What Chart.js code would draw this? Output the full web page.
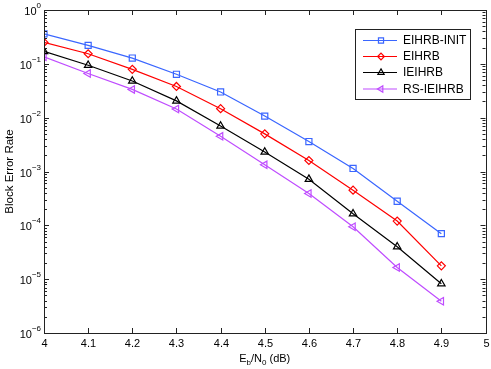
<!DOCTYPE html>
<html>
<head>
<meta charset="utf-8">
<script src="https://cdn.jsdelivr.net/npm/chart.js@4.4.1/dist/chart.umd.min.js"></script>
<style>
  html, body { margin: 0; padding: 0; background: #fff; }
  #wrap { width: 491px; height: 369px; position: relative; }
</style>
</head>
<body>
<div id="wrap"><canvas id="berChart"></canvas></div>
<script>
const snr = [4.0, 4.1, 4.2, 4.3, 4.4, 4.5, 4.6, 4.7, 4.8, 4.9];
const eihrbInit = [0.36, 0.22, 0.128, 0.064, 0.030, 0.0107, 0.0036, 0.00114, 2.8e-4, 7.0e-5];
const eihrb = [0.25, 0.154, 0.079, 0.038, 0.0147, 0.0050, 0.0016, 4.5e-4, 1.2e-4, 1.77e-5];
const ieihrb = [0.17, 0.094, 0.048, 0.0205, 0.0070, 0.0023, 7.2e-4, 1.64e-4, 4.0e-5, 8.2e-6];
const rsIeihrb = [0.135, 0.066, 0.0335, 0.0145, 0.0045, 0.00133, 3.9e-4, 9.4e-5, 1.65e-5, 3.9e-6];

const xTicks = [4, 4.1, 4.2, 4.3, 4.4, 4.5, 4.6, 4.7, 4.8, 4.9, 5];
const yExponents = [0, -1, -2, -3, -4, -5, -6];

const FONT = "Liberation Sans, Arial, Helvetica, sans-serif";

function serie(label, values, color, style, radius, rot) {
  return {
    label,
    data: snr.map((x, i) => ({ x, y: values[i] })),
    borderColor: color,
    backgroundColor: "rgba(0,0,0,0)",
    borderWidth: 1.2,
    pointStyle: style,
    pointRotation: rot || 0,
    pointRadius: radius,
    pointBorderWidth: 1.2,
    pointBorderColor: color,
    pointBackgroundColor: "rgba(0,0,0,0)",
    tension: 0,
  };
}

const datasets = [
  serie("EIHRB-INIT", eihrbInit, "#3a66ff", "rect", 4.3),
  serie("EIHRB", eihrb, "#ff0000", "rectRot", 4),
  serie("IEIHRB", ieihrb, "#000000", "triangle", 4.3),
  serie("RS-IEIHRB", rsIeihrb, "#bf4dff", "triangle", 4.3, -90),
];

// ejes estilo MATLAB: caja, marcas hacia dentro, etiquetas con superíndice
const ejesPlugin = {
  id: "ejes",
  afterDatasetsDraw(chart) {
    const ctx = chart.ctx;
    const a = chart.chartArea;
    const xs = chart.scales.x;
    const ys = chart.scales.y;
    ctx.save();
    ctx.strokeStyle = "#222";
    ctx.lineWidth = 1;
    ctx.strokeRect(Math.round(a.left) + 0.5, Math.round(a.top) + 0.5,
      Math.round(a.right - a.left), Math.round(a.bottom - a.top));

    ctx.fillStyle = "#000";
    ctx.font = "11px " + FONT;
    ctx.textAlign = "center";
    ctx.textBaseline = "top";
    xTicks.forEach((v) => {
      const px = Math.round(xs.getPixelForValue(v)) + 0.5;
      ctx.beginPath();
      ctx.moveTo(px, a.bottom);
      ctx.lineTo(px, a.bottom - 5);
      ctx.moveTo(px, a.top);
      ctx.lineTo(px, a.top + 5);
      ctx.stroke();
      ctx.fillText(String(v), px, a.bottom + 5);
    });

    yExponents.forEach((e) => {
      const py = Math.round(ys.getPixelForValue(Math.pow(10, e))) + 0.5;
      ctx.beginPath();
      ctx.moveTo(a.left, py);
      ctx.lineTo(a.left + 5, py);
      ctx.moveTo(a.right, py);
      ctx.lineTo(a.right - 5, py);
      ctx.stroke();
      if (e > -6) {
        for (let m = 2; m <= 9; m++) {
          const pm = Math.round(ys.getPixelForValue(m * Math.pow(10, e - 1))) + 0.5;
          ctx.beginPath();
          ctx.moveTo(a.left, pm);
          ctx.lineTo(a.left + 3, pm);
          ctx.moveTo(a.right, pm);
          ctx.lineTo(a.right - 3, pm);
          ctx.stroke();
        }
      }
      // etiqueta 10^e
      const sup = e === 0 ? "0" : "\u2212" + Math.abs(e);
      ctx.font = "8px " + FONT;
      const wSup = ctx.measureText(sup).width;
      ctx.textAlign = "right";
      ctx.textBaseline = "middle";
      const right = a.left - 3;
      ctx.fillText(sup, right, py - 5);
      ctx.font = "11px " + FONT;
      ctx.fillText("10", right - wSup, py + 1);
    });

    // título eje y
    ctx.save();
    ctx.translate(10, (a.top + a.bottom) / 2);
    ctx.rotate(-Math.PI / 2);
    ctx.textAlign = "center";
    ctx.textBaseline = "middle";
    ctx.font = "11.5px " + FONT;
    ctx.fillText("Block Error Rate", 0, 0);
    ctx.restore();

    // título eje x: E_b/N_0 (dB)
    const partes = [
      ["E", 0, 11], ["b", 3, 8], ["/N", 0, 11], ["0", 3, 8], [" (dB)", 0, 11],
    ];
    let total = 0;
    partes.forEach((p) => { ctx.font = p[2] + "px " + FONT; total += ctx.measureText(p[0]).width; });
    let x = (a.left + a.right) / 2 - total / 2;
    const base = a.bottom + 29;
    ctx.textAlign = "left";
    ctx.textBaseline = "alphabetic";
    partes.forEach((p) => {
      ctx.font = p[2] + "px " + FONT;
      ctx.fillText(p[0], x, base + p[1]);
      x += ctx.measureText(p[0]).width;
    });

    // leyenda
    const lx = 355, ly = 29, lw = 115, lh = 70;
    ctx.fillStyle = "#fff";
    ctx.fillRect(lx, ly, lw, lh);
    ctx.strokeStyle = "#222";
    ctx.lineWidth = 1;
    ctx.strokeRect(lx + 0.5, ly + 0.5, lw, lh);
    const filas = [40.5, 56.5, 72.5, 89];
    chart.data.datasets.forEach((ds, i) => {
      const yy = filas[i];
      ctx.strokeStyle = ds.borderColor;
      ctx.lineWidth = 1.2;
      ctx.beginPath();
      ctx.moveTo(363, yy);
      ctx.lineTo(397, yy);
      ctx.stroke();
      ctx.fillStyle = "rgba(0,0,0,0)";
      Chart.helpers.drawPoint(ctx, {
        pointStyle: ds.pointStyle,
        rotation: ds.pointRotation,
        radius: ds.pointRadius - 0.7,
        borderWidth: 1.2,
      }, 381, yy);
      ctx.fillStyle = "#000";
      ctx.font = "12px " + FONT;
      ctx.textBaseline = "middle";
      ctx.textAlign = "left";
      ctx.fillText(ds.label, 403, yy + 0.5);
    });
    ctx.restore();
  },
};

new Chart(document.getElementById("berChart").getContext("2d"), {
  type: "line",
  data: { datasets },
  options: {
    responsive: true,
    maintainAspectRatio: false,
    animation: false,
    layout: { padding: { left: 44, right: 3, top: 10, bottom: 36 } },
    plugins: { legend: { display: false }, tooltip: { enabled: false } },
    scales: {
      x: { type: "linear", min: 4, max: 5, display: false },
      y: { type: "logarithmic", min: 1e-6, max: 1, display: false },
    },
  },
  plugins: [ejesPlugin],
});
</script>
</body>
</html>
